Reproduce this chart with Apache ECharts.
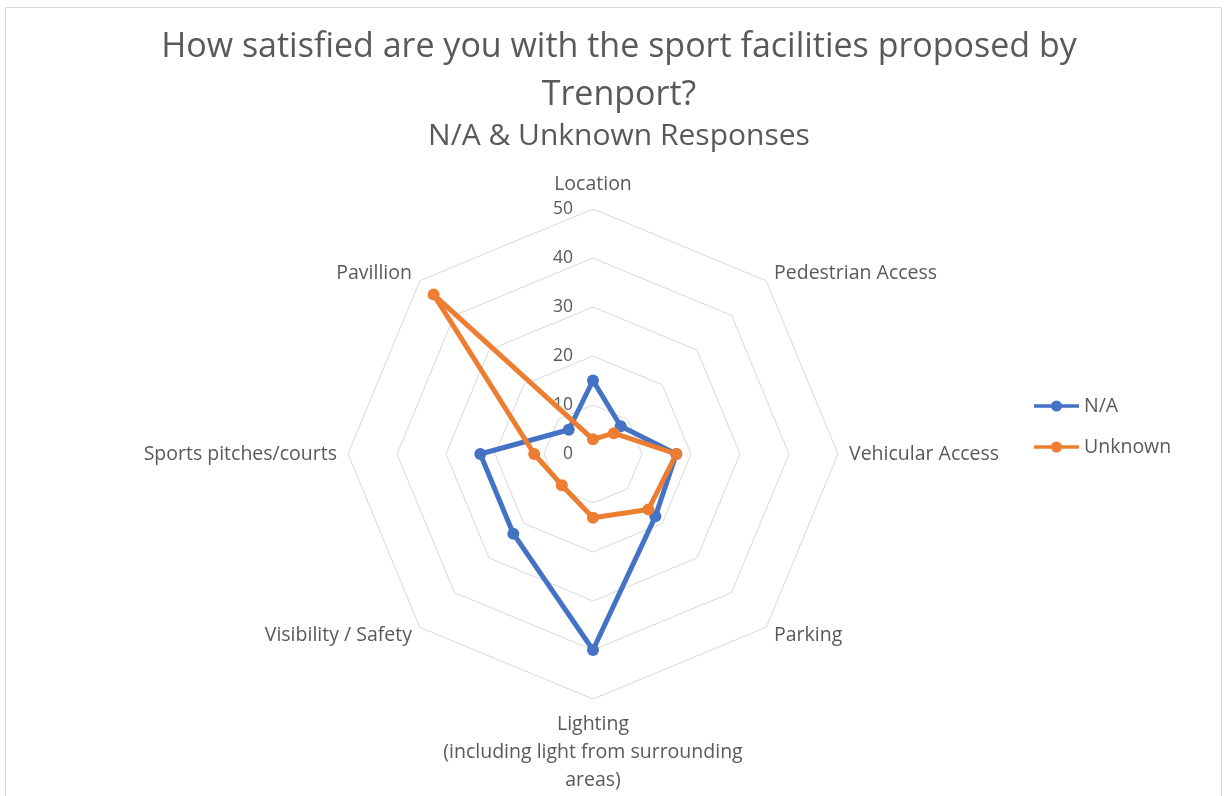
<!DOCTYPE html>
<html>
<head>
<meta charset="utf-8">
<script src="https://cdn.jsdelivr.net/npm/echarts@6/dist/echarts.min.js"></script>
<style>
  html, body { margin: 0; padding: 0; background: #ffffff; }
  #chart { width: 1224px; height: 796px; }
</style>
</head>
<body>
<div id="chart"></div>
<script>
// ---- data ----
const categories = [
  'Location',
  'Pedestrian Access',
  'Vehicular Access',
  'Parking',
  'Lighting\n(including light from surrounding\nareas)',
  'Visibility / Safety',
  'Sports pitches/courts',
  'Pavillion'
];
const naValues = [15, 8, 17, 18, 40, 23, 23, 7];
const unknownValues = [3, 6, 17, 16, 13, 9, 12, 46];
const seriesNames = ['N/A', 'Unknown'];
const axisMax = 50;
const titleLines = 'How satisfied are you with the sport facilities proposed by\nTrenport?';
const subtitleText = 'N/A & Unknown Responses';

// ECharts places radar indicators counter-clockwise; reorder so they read clockwise
const order = [0].concat(categories.map((_, i) => i).slice(1).reverse());
const pick = arr => order.map(i => arr[i]);

const textColor = '#595959';
const fontFamily = '"Open Sans", "Liberation Sans", sans-serif';
const legendIcon = 'path://M0,4.25 L45,4.25 L45,7.75 L0,7.75 Z M17,6 A5.5,5.5 0 1,1 28,6 A5.5,5.5 0 1,1 17,6 Z';

const indicators = pick(categories).map((name, k) => {
  const ind = { name: name, min: 0, max: axisMax };
  if (k === 0) ind.axisLabel = { show: true };
  return ind;
});

const chart = echarts.init(document.getElementById('chart'), null, { renderer: 'canvas' });
chart.setOption({
  backgroundColor: '#ffffff',
  textStyle: { fontFamily: fontFamily },
  graphic: [{
    type: 'rect', silent: true, z: -10,
    shape: { x: 5.5, y: 7.5, width: 1216, height: 820 },
    style: { fill: 'none', stroke: '#d9d9d9', lineWidth: 1 }
  }],
  title: [
    {
      text: titleLines, left: 614, top: 18, textAlign: 'center',
      textStyle: { color: textColor, fontSize: 34, fontWeight: 'normal', lineHeight: 48, fontFamily: fontFamily }
    },
    {
      text: subtitleText, left: 614, top: 114, textAlign: 'center',
      textStyle: { color: textColor, fontSize: 30, fontWeight: 'normal', lineHeight: 34, fontFamily: fontFamily }
    }
  ],
  legend: {
    orient: 'vertical', left: 1029, top: 391,
    itemWidth: 45, itemHeight: 12, itemGap: 21,
    textStyle: { color: textColor, fontSize: 19.5, lineHeight: 20, fontFamily: fontFamily },
    data: seriesNames.map(n => ({ name: n, icon: legendIcon }))
  },
  radar: {
    center: [593, 454],
    radius: 245,
    startAngle: 90,
    shape: 'polygon',
    splitNumber: 5,
    indicator: indicators,
    nameGap: 11,
    axisName: { color: textColor, fontSize: 19.5, lineHeight: 28, fontFamily: fontFamily },
    axisLine: { show: false },
    axisTick: { show: false },
    axisLabel: { show: false, color: textColor, fontSize: 17.5, margin: 20, fontFamily: fontFamily },
    splitLine: { lineStyle: { color: '#d9d9d9', width: 1 } },
    splitArea: { show: false }
  },
  series: [{
    type: 'radar',
    symbol: 'circle',
    symbolSize: 12,
    data: [
      {
        name: seriesNames[0], value: pick(naValues),
        itemStyle: { color: '#4472C4' },
        lineStyle: { color: '#4472C4', width: 5, join: 'round' }
      },
      {
        name: seriesNames[1], value: pick(unknownValues),
        itemStyle: { color: '#ED7D31' },
        lineStyle: { color: '#ED7D31', width: 5, join: 'round' }
      }
    ]
  }]
});
</script>
</body>
</html>
